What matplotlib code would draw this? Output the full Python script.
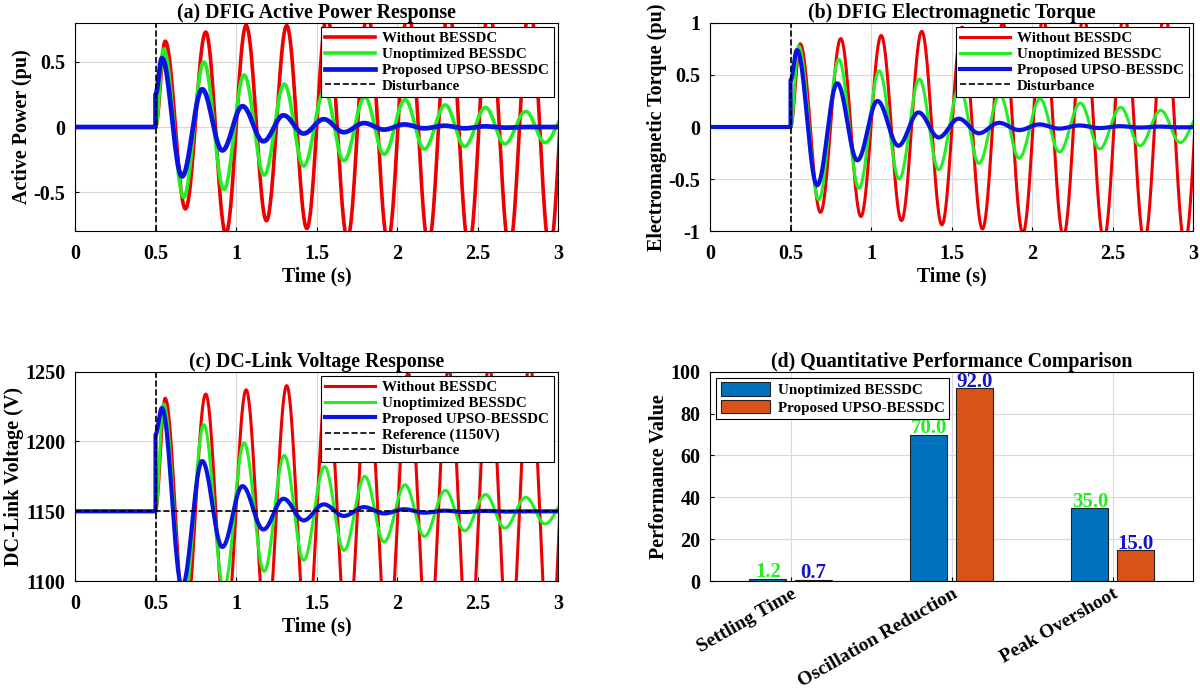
import numpy as np
import matplotlib.pyplot as plt

plt.rcParams['font.family'] = ['Liberation Serif', 'DejaVu Serif']
plt.rcParams['font.weight'] = 'bold'

# ---- extrema (time s, value) ----
# red (without BESSDC) share the same timing in all three panels
t_red = [0.5, 0.56, 0.686, 0.812, 0.937, 1.063, 1.189, 1.315, 1.440, 1.566, 1.692,
         1.818, 1.943, 2.069, 2.195, 2.321, 2.446, 2.572, 2.698, 2.824, 2.949, 3.075]
t_green = [0.5, 0.55, 0.675, 0.80, 0.925, 1.05, 1.175, 1.30, 1.42, 1.55, 1.67,
           1.80, 1.92, 2.05, 2.17, 2.30, 2.42, 2.55, 2.67, 2.80, 2.92, 3.05]
t_blue = [0.5, 0.5, 0.54, 0.665, 0.79, 0.915, 1.04, 1.17, 1.295, 1.42, 1.545, 1.67,
          1.795, 1.92, 2.045, 2.17, 2.295, 2.42, 2.545, 2.67, 2.795, 2.92, 3.05]

# (a) active power (pu)
p_red = [0, 0.66, -0.63, 0.73, -0.82, 0.78, -0.72, 0.78, -0.78, 0.86, -0.86,
         0.88, -0.88, 0.90, -0.90, 0.92, -0.92, 0.93, -0.93, 0.94, -0.94, 0.95]
p_green = [0, 0.60, -0.54, 0.50, -0.48, 0.40, -0.37, 0.33, -0.30, 0.28, -0.26,
           0.23, -0.21, 0.21, -0.17, 0.17, -0.15, 0.15, -0.13, 0.12, -0.12, 0.10]
p_blue = [0, 0.25, 0.53, -0.38, 0.29, -0.18, 0.16, -0.11, 0.09, -0.05, 0.06, -0.04,
          0.03, -0.02, 0.02, -0.01, 0.01, -0.01, 0.005, -0.005, 0.0, 0.0, 0.0]

# (b) electromagnetic torque (pu)
q_red = [0, 0.80, -0.82, 0.85, -0.86, 0.88, -0.90, 0.92, -0.94, 0.96, -0.98,
         1.0, -1.02, 1.04, -1.05, 1.07, -1.08, 1.09, -1.10, 1.11, -1.12, 1.13]
q_green = [0, 0.78, -0.70, 0.65, -0.59, 0.54, -0.50, 0.46, -0.41, 0.38, -0.35,
           0.31, -0.30, 0.27, -0.24, 0.23, -0.21, 0.19, -0.18, 0.16, -0.15, 0.14]
q_blue = [0, 0.45, 0.74, -0.56, 0.42, -0.32, 0.25, -0.18, 0.14, -0.10, 0.08, -0.06,
          0.04, -0.03, 0.025, -0.015, 0.015, -0.01, 0.008, -0.005, 0.004, -0.003, 0.0]

# (c) DC-link voltage (V)
v_red = [1150, 1231, 1069, 1234, 1066, 1237, 1063, 1240, 1060, 1243, 1057,
         1246, 1054, 1249, 1051, 1252, 1048, 1254, 1046, 1256, 1044, 1258]
v_green = [1150, 1227, 1082, 1212, 1095, 1199, 1107, 1190, 1115, 1182, 1122,
           1175, 1128, 1169, 1132, 1165, 1136, 1162, 1138, 1160, 1141, 1158]
v_blue = [1150, 1205, 1224, 1096, 1186, 1124.5, 1168, 1137, 1159, 1143.5, 1155, 1146.7,
          1153, 1148.5, 1151.5, 1149, 1150.5, 1149.5, 1150.3, 1149.8, 1150, 1150, 1150]

# (d) bar data
categories = ['Settling Time', 'Oscillation Reduction', 'Peak Overshoot']
unopt_vals = [1.2, 70.0, 35.0]
prop_vals = [0.7, 92.0, 15.0]

RED, GREEN, BLUE = '#ee0000', '#22ee22', '#0a14e0'


def wave(tk, vk, n=40):
    # flat baseline before the disturbance, smooth half-cosine between extrema
    t, v = [0.0], [vk[0]]
    for i in range(len(tk) - 1):
        s = np.linspace(0, 1, n)
        t.extend(tk[i] + (tk[i + 1] - tk[i]) * s)
        v.extend(vk[i] + (vk[i + 1] - vk[i]) * (1 - np.cos(np.pi * s)) / 2)
    return np.array(t), np.array(v)


def ticks(ax, xpad=9):
    ax.tick_params(labelsize=14.5, direction='in', length=3)
    ax.tick_params(axis='x', pad=xpad)
    ax.tick_params(axis='y', pad=7)
    for lab in ax.get_xticklabels() + ax.get_yticklabels():
        lab.set_fontweight('bold')


def style(ax, title, ylabel):
    ax.set_title(title, fontsize=14.3, fontweight='bold', pad=3)
    ax.set_xlabel('Time (s)', fontsize=14.3, fontweight='bold', labelpad=2)
    ax.set_ylabel(ylabel, fontsize=14.5, fontweight='bold', labelpad=1)
    ax.set_xlim(0, 3)
    ax.set_xticks([0, 0.5, 1, 1.5, 2, 2.5, 3])
    ax.set_xticklabels(['0', '0.5', '1', '1.5', '2', '2.5', '3'])
    ax.grid(True, color='#d9d9d9', linewidth=0.8)
    ax.set_axisbelow(True)
    ticks(ax)
    for sp in ax.spines.values():
        sp.set_linewidth(0.8)


def legend(ax, loc='upper right'):
    leg = ax.legend(loc=loc, fontsize=10.8, handlelength=3.3, labelspacing=0.15,
                    borderaxespad=0.3, fancybox=False, framealpha=1,
                    edgecolor='black', borderpad=0.3, handletextpad=0.5)
    leg.get_frame().set_linewidth(0.8)
    for txt in leg.get_texts():
        txt.set_fontweight('bold')


fig = plt.figure(figsize=(12, 6.96), dpi=100)
ax_a = fig.add_axes([0.0625, 0.668, 0.4025, 0.299])
ax_b = fig.add_axes([0.5917, 0.668, 0.4025, 0.299])
ax_c = fig.add_axes([0.0625, 0.165, 0.4025, 0.301])
ax_d = fig.add_axes([0.5917, 0.165, 0.4025, 0.301])

# (a)
ax_a.plot(*wave(t_red, p_red), color=RED, lw=2.6, label='Without BESSDC')
ax_a.plot(*wave(t_green, p_green), color=GREEN, lw=2.6, label='Unoptimized BESSDC')
ax_a.plot(*wave(t_blue, p_blue), color=BLUE, lw=3.4, label='Proposed UPSO-BESSDC')
ax_a.axvline(0.5, color='black', ls='--', lw=1.2, label='Disturbance')
ax_a.set_ylim(-0.8, 0.8)
ax_a.set_yticks([-0.5, 0, 0.5])
ax_a.set_yticklabels(['-0.5', '0', '0.5'])
style(ax_a, '(a) DFIG Active Power Response', 'Active Power (pu)')
legend(ax_a)

# (b)
ax_b.plot(*wave(t_red, q_red), color=RED, lw=2.2, label='Without BESSDC')
ax_b.plot(*wave(t_green, q_green), color=GREEN, lw=2.2, label='Unoptimized BESSDC')
ax_b.plot(*wave(t_blue, q_blue), color=BLUE, lw=3.0, label='Proposed UPSO-BESSDC')
ax_b.axvline(0.5, color='black', ls='--', lw=1.2, label='Disturbance')
ax_b.set_ylim(-1, 1)
ax_b.set_yticks([-1, -0.5, 0, 0.5, 1])
ax_b.set_yticklabels(['-1', '-0.5', '0', '0.5', '1'])
style(ax_b, '(b) DFIG Electromagnetic Torque', 'Electromagnetic Torque (pu)')
legend(ax_b)

# (c)
ax_c.plot(*wave(t_red, v_red), color=RED, lw=2.2, label='Without BESSDC')
ax_c.plot(*wave(t_green, v_green), color=GREEN, lw=2.2, label='Unoptimized BESSDC')
ax_c.plot(*wave(t_blue, v_blue), color=BLUE, lw=3.0, label='Proposed UPSO-BESSDC')
ax_c.axhline(1150, color='black', ls='--', lw=1.2, label='Reference (1150V)')
ax_c.axvline(0.5, color='black', ls='--', lw=1.2, label='Disturbance')
ax_c.set_ylim(1100, 1250)
ax_c.set_yticks([1100, 1150, 1200, 1250])
style(ax_c, '(c) DC-Link Voltage Response', 'DC-Link Voltage (V)')
legend(ax_c)

# (d)
x = np.arange(1, len(categories) + 1)
w = 0.23
ax_d.bar(x - 0.141, unopt_vals, w, color='#0072BD', edgecolor='#222222', lw=0.8,
         label='Unoptimized BESSDC')
ax_d.bar(x + 0.141, prop_vals, w, color='#D95319', edgecolor='#222222', lw=0.8,
         label='Proposed UPSO-BESSDC')
for xi, val in zip(x, unopt_vals):
    ax_d.text(xi - 0.141, val - 1.8, f'{val:.1f}', ha='center', va='bottom',
              color=GREEN, fontsize=15, fontweight='bold')
for xi, val in zip(x, prop_vals):
    ax_d.text(xi + 0.141, val - 1.8, f'{val:.1f}', ha='center', va='bottom',
              color='#1414c8', fontsize=15, fontweight='bold')
ax_d.set_xlim(0.5, 3.5)
ax_d.set_ylim(0, 100)
ax_d.set_xticks(x)
ax_d.set_xticklabels(categories, rotation=30, ha='right', rotation_mode='anchor')
ax_d.set_yticks([0, 20, 40, 60, 80, 100])
ax_d.set_title('(d) Quantitative Performance Comparison', fontsize=14.3,
               fontweight='bold', pad=3)
ax_d.set_ylabel('Performance Value', fontsize=14.5, fontweight='bold', labelpad=1)
ax_d.grid(True, color='#d9d9d9', linewidth=0.8)
ax_d.set_axisbelow(True)
ticks(ax_d, xpad=3)
for lab in ax_d.get_xticklabels():
    lab.set_fontsize(14)
for sp in ax_d.spines.values():
    sp.set_linewidth(0.8)
leg = ax_d.legend(loc='upper left', fontsize=10.8, handlelength=3.3, handleheight=1.0,
                  labelspacing=0.2, borderaxespad=0.4, fancybox=False, framealpha=1,
                  edgecolor='black', borderpad=0.3, handletextpad=0.5)
leg.get_frame().set_linewidth(0.8)
for txt in leg.get_texts():
    txt.set_fontweight('bold')

fig.savefig('out.png', dpi=100)
